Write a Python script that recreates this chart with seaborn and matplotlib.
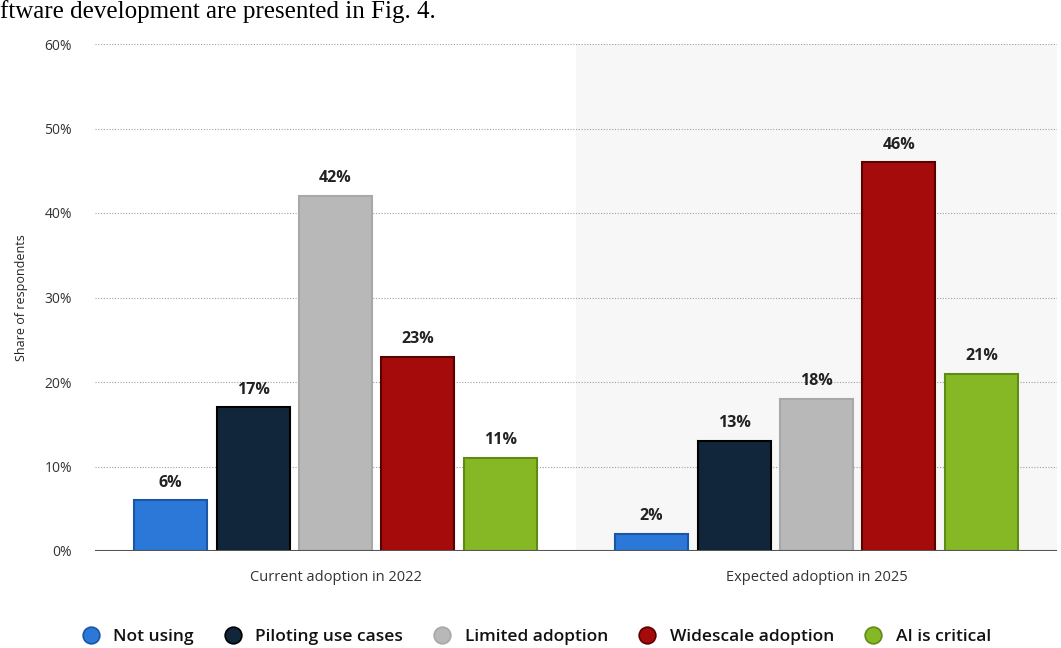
import numpy as np
import pandas as pd
import seaborn as sns
import matplotlib.pyplot as plt
from matplotlib.lines import Line2D

# data
periods = ['Current adoption in 2022', 'Expected adoption in 2025']
stages = ['Not using', 'Piloting use cases', 'Limited adoption', 'Widescale adoption', 'AI is critical']
share_2022 = [6, 17, 42, 23, 11]
share_2025 = [2, 13, 18, 46, 21]
y_ticks = [0, 10, 20, 30, 40, 50, 60]

colors = ['#2b78d8', '#11263b', '#b8b8b8', '#a50b0b', '#86b825']
edges = ['#1a55a8', '#000000', '#a8a8a8', '#5a0000', '#5f8a14']

df = pd.DataFrame({
    'period': [periods[0]] * 5 + [periods[1]] * 5,
    'stage': stages * 2,
    'share': share_2022 + share_2025,
})

sns.set_style('white')
plt.rcParams['font.family'] = ['Open Sans', 'DejaVu Sans']

fig = plt.figure(figsize=(10.61, 6.48), dpi=100)
ax = fig.add_axes([95 / 1061, 1 - 551 / 648, 962 / 1061, 507 / 648])

# light shading behind the second group
ax.axvspan(0.5, 1.5, color='#f7f7f7', zorder=0, lw=0)

sns.barplot(data=df, x='period', y='share', hue='stage', hue_order=stages,
            palette=colors, width=0.8575, gap=0.115, ax=ax, legend=False,
            zorder=3, saturation=1)

for cont, ec in zip(ax.containers, edges):
    for bar in cont:
        bar.set_edgecolor(ec)
        bar.set_linewidth(1.5)
    ax.bar_label(cont, labels=[f'{v:.0f}%' for v in cont.datavalues],
                 padding=7, fontsize=11.5, fontweight='bold', color='#222222')

ax.set_xlim(-0.5, 1.5)
ax.set_ylim(0, 60)
ax.set_yticks(y_ticks)
ax.set_yticklabels([f'{t}%' for t in y_ticks], fontsize=10, color='#333333')
ax.tick_params(axis='y', length=0, pad=16.5)
ax.tick_params(axis='x', length=0, pad=14, labelsize=10.5, labelcolor='#333333')
for t in y_ticks[1:]:
    ax.axhline(t, color='#a0a0a0', lw=0.8, ls=(0, (1, 1.5)), zorder=1)
ax.axhline(0, color='#555555', lw=1.5, zorder=4)
for s in ax.spines.values():
    s.set_visible(False)
ax.set_xlabel('')
ax.set_ylabel('Share of respondents', fontsize=9, color='#222222', labelpad=12)

handles = [Line2D([], [], marker='o', ls='', markersize=12, markerfacecolor=c,
                  markeredgecolor=e, markeredgewidth=1.2) for c, e in zip(colors, edges)]
leg = fig.legend(handles, stages, loc='center', bbox_to_anchor=(532 / 1061, 1 - 637 / 648),
                 ncol=5, frameon=False, handletextpad=0.3, columnspacing=1.25,
                 prop={'family': ['Open Sans', 'DejaVu Sans'], 'size': 12.5, 'weight': 'semibold'})
for t in leg.get_texts():
    t.set_color('#111111')

# caption text from the page above the chart
fig.text(0.0, 1 - 12 / 648, 'ftware development are presented in Fig. 4.', fontsize=18,
         family=['Liberation Serif', 'DejaVu Serif'], va='center', ha='left', color='black')

fig.savefig('out.png', dpi=100)
